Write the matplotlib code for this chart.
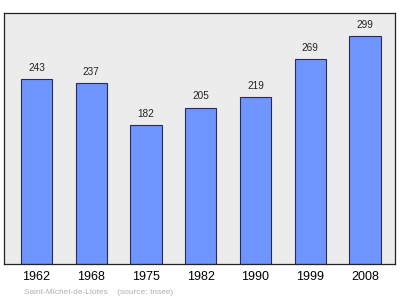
import matplotlib
matplotlib.use("Agg")
import matplotlib.pyplot as plt

years = ["1962", "1968", "1975", "1982", "1990", "1999", "2008"]
population = [243, 237, 182, 205, 219, 269, 299]

fig = plt.figure(figsize=(4.0, 2.99), dpi=100)
ax = fig.add_axes([4 / 400, 1 - 264 / 299, 391 / 400, 251 / 299])
ax.set_facecolor("#ececec")

pos = list(range(len(years)))
ax.bar(pos, population, width=0.57, color="#6f96ff", edgecolor="#2a2a5a", linewidth=0.8, zorder=2)
for x, v in zip(pos, population):
    ax.text(x, v + 8, str(v), ha="center", va="bottom", fontsize=7.2, color="#222222",
            family="Liberation Sans")

ax.set_xlim(-0.594, 6.548)
ax.set_ylim(0, 329)
ax.set_yticks([])
ax.set_xticks(pos)
ax.set_xticklabels(years, fontsize=9, family="Liberation Sans")
ax.tick_params(axis="x", length=0, pad=5)
for s in ax.spines.values():
    s.set_color("#222222")
    s.set_linewidth(0.9)

fig.text(24 / 400, 1 - 292 / 299, "Saint-Michel-de-Llotes    (source: Insee)", fontsize=6,
         color="#b0b0b0", va="center", ha="left", family="Liberation Sans")

fig.savefig("out.png", dpi=100)
